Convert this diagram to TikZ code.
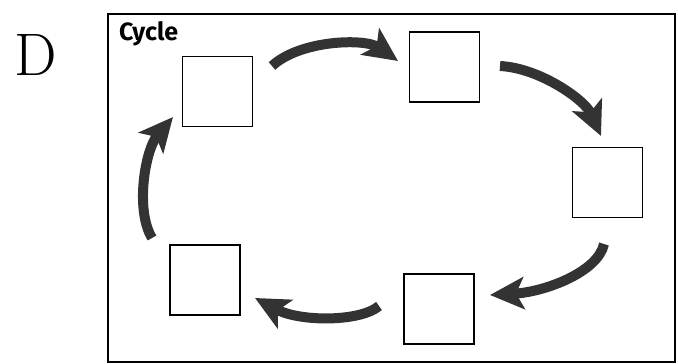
\documentclass[tikz,border=0pt]{standalone}
\usepackage{fontspec}
\setsansfont{Fira Sans}
\usetikzlibrary{arrows.meta}
\begin{document}
\begin{tikzpicture}[x=1pt,y=-1pt,
  box/.style={draw=black, line width=1.4pt, minimum width=70pt, minimum height=70pt, inner sep=0pt},
  cyc/.style={line width=10pt, draw=black!80, -{Stealth[length=34pt,width=32pt,inset=8pt]}},
  frame/.style={draw=black, line width=1.2pt}
]
\useasboundingbox (0,0) rectangle (678,364);
% frame
\draw[frame] (108,14) rectangle (675,362);
\node[anchor=base west, inner sep=0pt, font=\sffamily\bfseries\fontsize{25}{25}\selectfont] (title) at (119,41) {Cycle};
\node[anchor=base, inner sep=0pt, font=\fontsize{60}{60}\selectfont] (letter) at (36,75) {D};
% boxes
\node[box] (b1) at (217.5,91.5) {};
\node[box] (b2) at (444.5,67) {};
\node[box] (b3) at (607.5,182.5) {};
\node[box] (b4) at (439,309) {};
\node[box] (b5) at (205,280) {};
% arrow ends
\coordinate (a1s) at (272,66);  \coordinate (a1e) at (398,61);
\coordinate (a2s) at (500,66);  \coordinate (a2e) at (601,136);
\coordinate (a3s) at (604,244); \coordinate (a3e) at (490,295);
\coordinate (a4s) at (379,306); \coordinate (a4e) at (255,298);
\coordinate (a5s) at (152,238); \coordinate (a5e) at (173,117);
% arrows
\draw[cyc] (a1s) .. controls (300,40) and (365,38) .. (a1e);
\draw[cyc] (a2s) .. controls (540,68) and (585,100) .. (a2e);
\draw[cyc] (a3s) .. controls (598,272) and (545,292) .. (a3e);
\draw[cyc] (a4s) .. controls (360,322) and (300,322) .. (a4e);
\draw[cyc] (a5s) .. controls (135,210) and (145,150) .. (a5e);
\end{tikzpicture}
\end{document}
